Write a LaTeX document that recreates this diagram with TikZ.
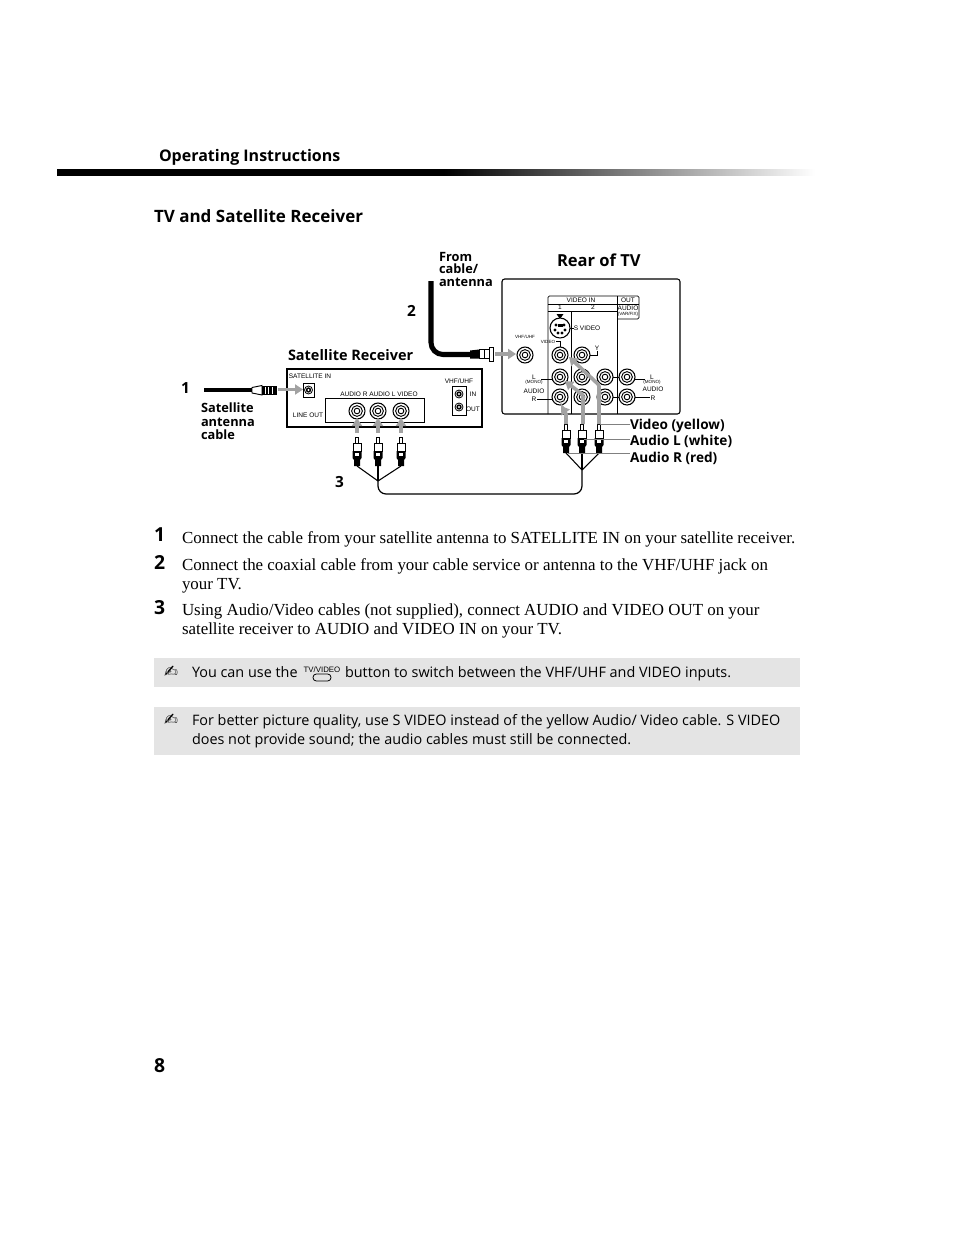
\documentclass[tikz,border=0pt]{standalone}
\usepackage{fontspec}
\usepackage{tikz}
\usetikzlibrary{arrows.meta}
\setmainfont{Liberation Serif}
\setsansfont{Open Sans}
\newfontfamily\tinyfont{Liberation Sans}
\newfontfamily\signfont{DejaVu Sans}
\definecolor{notegray}{HTML}{E4E4E4}
\definecolor{arrowgray}{HTML}{A2A2A2}
\tikzset{
  txt/.style={anchor=base west,inner sep=0pt,outer sep=0pt},
  bodytext/.style={txt,font=\fontsize{12.68}{14}\selectfont},
  notetext/.style={txt,font=\sffamily\fontsize{10.8}{13}\selectfont},
  steplabel/.style={txt,font=\sffamily\bfseries\fontsize{14.5}{16}\selectfont},
  title/.style={txt,font=\sffamily\bfseries\fontsize{12.75}{15}\selectfont},
  numlabel/.style={txt,font=\sffamily\bfseries\fontsize{11.5}{14}\selectfont},
  callout/.style={txt,font=\sffamily\bfseries\fontsize{9.6}{11}\selectfont},
  plugname/.style={txt,font=\sffamily\bfseries\fontsize{10.2}{12}\selectfont},
  tiny/.style={inner sep=0pt,outer sep=0pt,font=\tinyfont\fontsize{4.9}{5}\selectfont},
  micro/.style={inner sep=0pt,outer sep=0pt,font=\tinyfont\fontsize{3.4}{4}\selectfont},
  grayarrow/.style={draw=arrowgray,line width=2.7pt,-{Triangle[length=6pt,width=7.5pt]}},
  leader/.style={draw=gray,line width=0.4pt},
  panelline/.style={line width=0.6pt},
  cordline/.style={line width=0.9pt,rounded corners=6pt},
  jack/.pic={
    \draw[line width=0.8pt,fill=white] (0,0) circle[radius=8];
    \draw[line width=0.7pt] (0,0) circle[radius=5.4];
    \draw[line width=0.7pt] (0,0) circle[radius=2.8];
  },
  smalljack/.pic={
    \draw[line width=0.6pt,fill=white] (0,0) circle[radius=4];
    \fill (0,0) circle[radius=2.7];
    \fill[white] (0,0) circle[radius=1.1];
  },
  rca/.pic={
    \draw[line width=0.5pt,fill=white] (-1.5,0) rectangle (1.5,6);
    \draw[line width=0.7pt,fill=white] (-4,6) rectangle (4,14);
    \fill (-4.5,14) -- (4.5,14) -- (4.5,21) -- (3,23) -- (3,29) -- (-3,29) -- (-3,23) -- (-4.5,21) -- cycle;
    \fill[white] (-2,16) rectangle (2,19);
  }
}
\begin{document}
\begin{tikzpicture}[x=0.75pt,y=-0.75pt]
\useasboundingbox (0,0) rectangle (954,1235);
% Page header
\node[txt,font=\sffamily\bfseries\fontsize{12}{13}\selectfont] (header) at (159,161) {Operating Instructions};
\fill (57,169) rectangle (445,175.5);
\shade[left color=black,right color=white] (444,169) rectangle (815,175.5);
\node[title] (heading) at (154,222) {TV and Satellite Receiver};
% Captions
\node[callout] (from) at (439,261) {From};
\node[callout] (cablelbl) at (439,273) {cable/};
\node[callout] (antenna) at (439,286) {antenna};
\node[title,font=\sffamily\bfseries\fontsize{12.4}{14}\selectfont] (rear) at (557,266) {Rear of TV};
\node[title,font=\sffamily\bfseries\fontsize{10.85}{13}\selectfont] (satrec) at (288,360) {Satellite Receiver};
\node[numlabel] (two) at (407,316) {2};
\node[numlabel] (one) at (181,393) {1};
\node[numlabel] (three) at (335,487) {3};
\node[callout] (sata) at (201,412) {Satellite};
\node[callout] (satb) at (201,426) {antenna};
\node[callout] (satc) at (201,439) {cable};
\node[plugname] (videolbl) at (630,429) {Video (yellow)};
\node[plugname] (audiol) at (630,445) {Audio L (white)};
\node[plugname] (audior) at (630,462) {Audio R (red)};
% Rear of TV
\draw[line width=0.8pt,rounded corners=2pt] (502,279) rectangle (680,414);
\draw[panelline,rounded corners=1pt] (548,414) -- (548,296) -- (639,296) -- (639,319) -- (617,319);
\draw[panelline] (617,296) -- (617,414);
\draw[panelline] (571,311) -- (571,414);
\draw[panelline] (548,304) -- (639,304);
\draw[panelline] (548,311) -- (617,311);
\node[tiny] (videoin) at (581,300) {VIDEO IN};
\node[tiny] (outlbl) at (628,300) {OUT};
\node[tiny] (inone) at (560,307.5) {1};
\node[tiny] (intwo) at (593,307.5) {2};
\node[tiny] (audiotop) at (628,308.5) {AUDIO};
\node[micro] (varfix) at (628,314.5) {(VAR/FIX)};
\fill (556.5,314) -- (563.5,314) -- (560,319) -- cycle;
\draw[line width=0.8pt,fill=white] (560,328) circle[radius=10];
\foreach \dx/\dy in {-4/-3,4/-3,-5/2,5/2,-2/5,2/5}
  \fill (560+\dx,328+\dy) circle[radius=1.6];
\fill (557.5,324) rectangle (562.5,327);
\node[tiny] (svideo) at (587,328) {S VIDEO};
\draw[panelline] (570,328) -- (574,328);
\node[micro] (vhftv) at (525,337) {VHF/UHF};
\pic at (525,355) {jack};
% Jacks of the TV panel
\foreach \jx/\jy in {560/355,582/355,560/377,582/377,605/377,627/377,560/397,582/397,605/397,627/397}
  \pic at (\jx,\jy) {jack};
\draw[panelline] (613,377) -- (619,377);
\draw[panelline] (613,397) -- (619,397);
\draw[panelline] (590,355) -- (597,355) -- (597,351);
\node[tiny] (ylbl) at (597,348) {Y};
\node[micro] (videosm) at (548,341.5) {VIDEO};
\draw[panelline] (556,341.5) -- (560,341.5) -- (560,347);
\draw[panelline] (541,379) -- (552,379);
\draw[panelline] (537,399) -- (552,399);
\node[tiny] (lleft) at (534,377) {L};
\node[micro] (monoleft) at (534,382) {(MONO)};
\node[tiny] (audleft) at (534,391) {AUDIO};
\node[tiny] (rleft) at (534,399) {R};
\draw[panelline] (635,379) -- (645,379);
\draw[panelline] (635,397) -- (650,397);
\node[tiny] (lright) at (652,377) {L};
\node[micro] (monoright) at (652,382) {(MONO)};
\node[tiny] (audright) at (653,389) {AUDIO};
\node[tiny] (rright) at (653,398) {R};
% Satellite receiver
\draw[line width=0.8pt] (287,369) rectangle (482,427);
\draw[panelline] (325,398) rectangle (424,422);
\draw[panelline] (303,383) rectangle (314,397);
\draw[panelline] (452,386) rectangle (466,415);
\pic at (308.5,390) {smalljack};
\pic at (459,394) {smalljack};
\pic at (459,407) {smalljack};
\foreach \jx in {357,378,401}
  \pic at (\jx,411) {jack};
\node[tiny] (satin) at (310,376.5) {SATELLITE IN};
\node[tiny] (audiotext) at (379,394) {AUDIO R AUDIO L VIDEO};
\node[tiny] (lineout) at (308,415) {LINE OUT};
\node[tiny] (vhfrec) at (459,381) {VHF/UHF};
\node[tiny] (inrec) at (473,394) {IN};
\node[tiny] (outrec) at (473,409) {OUT};
% Cables and connectors
\coordinate (coaxtop) at (431,281);
\coordinate (coaxend) at (471,354.5);
\draw[line width=3.8pt,rounded corners=9pt] (coaxtop) |- (coaxend);
\fill (470,350.5) -- (479,349.5) -- (479,358.5) -- (470,358.5) -- cycle;
\draw[line width=0.6pt,fill=white] (479,349.5) rectangle (489,358.5);
\draw[line width=0.6pt,fill=white] (489,347) rectangle (493,361);
\draw[line width=0.6pt] (484,349.5) -- (484,358.5);
\coordinate (satend) at (252,390);
\draw[line width=3.6pt] (204,390) -- (satend);
\draw[line width=0.7pt,fill=white] (252,387.5) -- (262,385.5) -- (262,395) -- (252,393) -- cycle;
\fill (262,385.5) rectangle (277,395);
\foreach \sx in {264.5,268,271.5}
  \fill[white] (\sx,386.5) rectangle (\sx+1.4,394);
\foreach \px in {357,378,401}
  \pic at (\px,437) {rca};
\foreach \px in {566,582,599}
  \pic at (\px,424) {rca};
\coordinate (splitrec) at (378,481);
\coordinate (splittv) at (582,470);
\draw[line width=0.8pt] (357,466) -- (splitrec);
\draw[line width=0.8pt] (378,466) -- (splitrec);
\draw[line width=0.8pt] (401,466) -- (splitrec);
\draw[line width=0.8pt] (566,453) -- (splittv);
\draw[line width=0.8pt] (582,453) -- (splittv);
\draw[line width=0.8pt] (599,453) -- (splittv);
\draw[cordline] (splitrec) -- (378,494) -- (582,494) -- (splittv);
% Grey arrows
\draw[grayarrow] (495,354) -- (516,354);
\draw[grayarrow] (278,389.5) -- (303,389.5);
\foreach \ax in {357,378,401}
  \draw[grayarrow] (\ax,433) -- (\ax,418);
\draw[grayarrow,rounded corners=1pt] (599,424) -- (599,385) -- (569,357);
\draw[grayarrow,rounded corners=1pt] (583,424) -- (583,395) -- (565,381);
\draw[grayarrow,rounded corners=1pt] (566,424) -- (566,413) -- (561,406);
% Leaders to the plug labels
\coordinate (plugv) at (600,424);
\coordinate (plugl) at (584,439);
\coordinate (plugr) at (568,453);
\draw[leader] (plugv) -- (videolbl.west |- plugv);
\draw[leader] (plugl) -- (audiol.west |- plugl);
\draw[leader] (plugr) -- (audior.west |- plugr);
% Numbered steps
\node[steplabel] (stepa) at (154,541) {1};
\node[steplabel] (stepb) at (154,569) {2};
\node[steplabel] (stepc) at (154,614) {3};
\node[bodytext] (linea) at (182,543) {Connect the cable from your satellite antenna to SATELLITE IN on your satellite receiver.};
\node[bodytext] (lineb) at (182,570) {Connect the coaxial cable from your cable service or antenna to the VHF/UHF jack on};
\node[bodytext] (linec) at (182,589) {your TV.};
\node[bodytext] (lined) at (182,615) {Using Audio/Video cables (not supplied), connect AUDIO and VIDEO OUT on your};
\node[bodytext] (linee) at (182,634) {satellite receiver to AUDIO and VIDEO IN on your TV.};
% Notes
\fill[notegray] (154,658) rectangle (800,687);
\fill[notegray] (154,707) rectangle (800,755);
\node[txt,font=\signfont\fontsize{12.5}{13}\selectfont] (pena) at (164,677) {✍};
\node[txt,font=\signfont\fontsize{12.5}{13}\selectfont] (penb) at (164,725) {✍};
\node[notetext] (notea) at (192,677) {You can use the};
\node[tiny,font=\tinyfont\fontsize{5.9}{6}\selectfont] (tvvideo) at (322,670) {TV/VIDEO};
\draw[line width=0.6pt,rounded corners=2.5pt] (313,674) rectangle (331,681);
\node[notetext] (noteb) at (345,677) {button to switch between the VHF/UHF and VIDEO inputs.};
\node[notetext] (notec) at (192,725) {For better picture quality, use S VIDEO instead of the yellow Audio/ Video cable. S VIDEO};
\node[notetext] (noted) at (192,744) {does not provide sound; the audio cables must still be connected.};
% Page number
\node[steplabel] (pagenum) at (154,1072) {8};
\end{tikzpicture}
\end{document}
